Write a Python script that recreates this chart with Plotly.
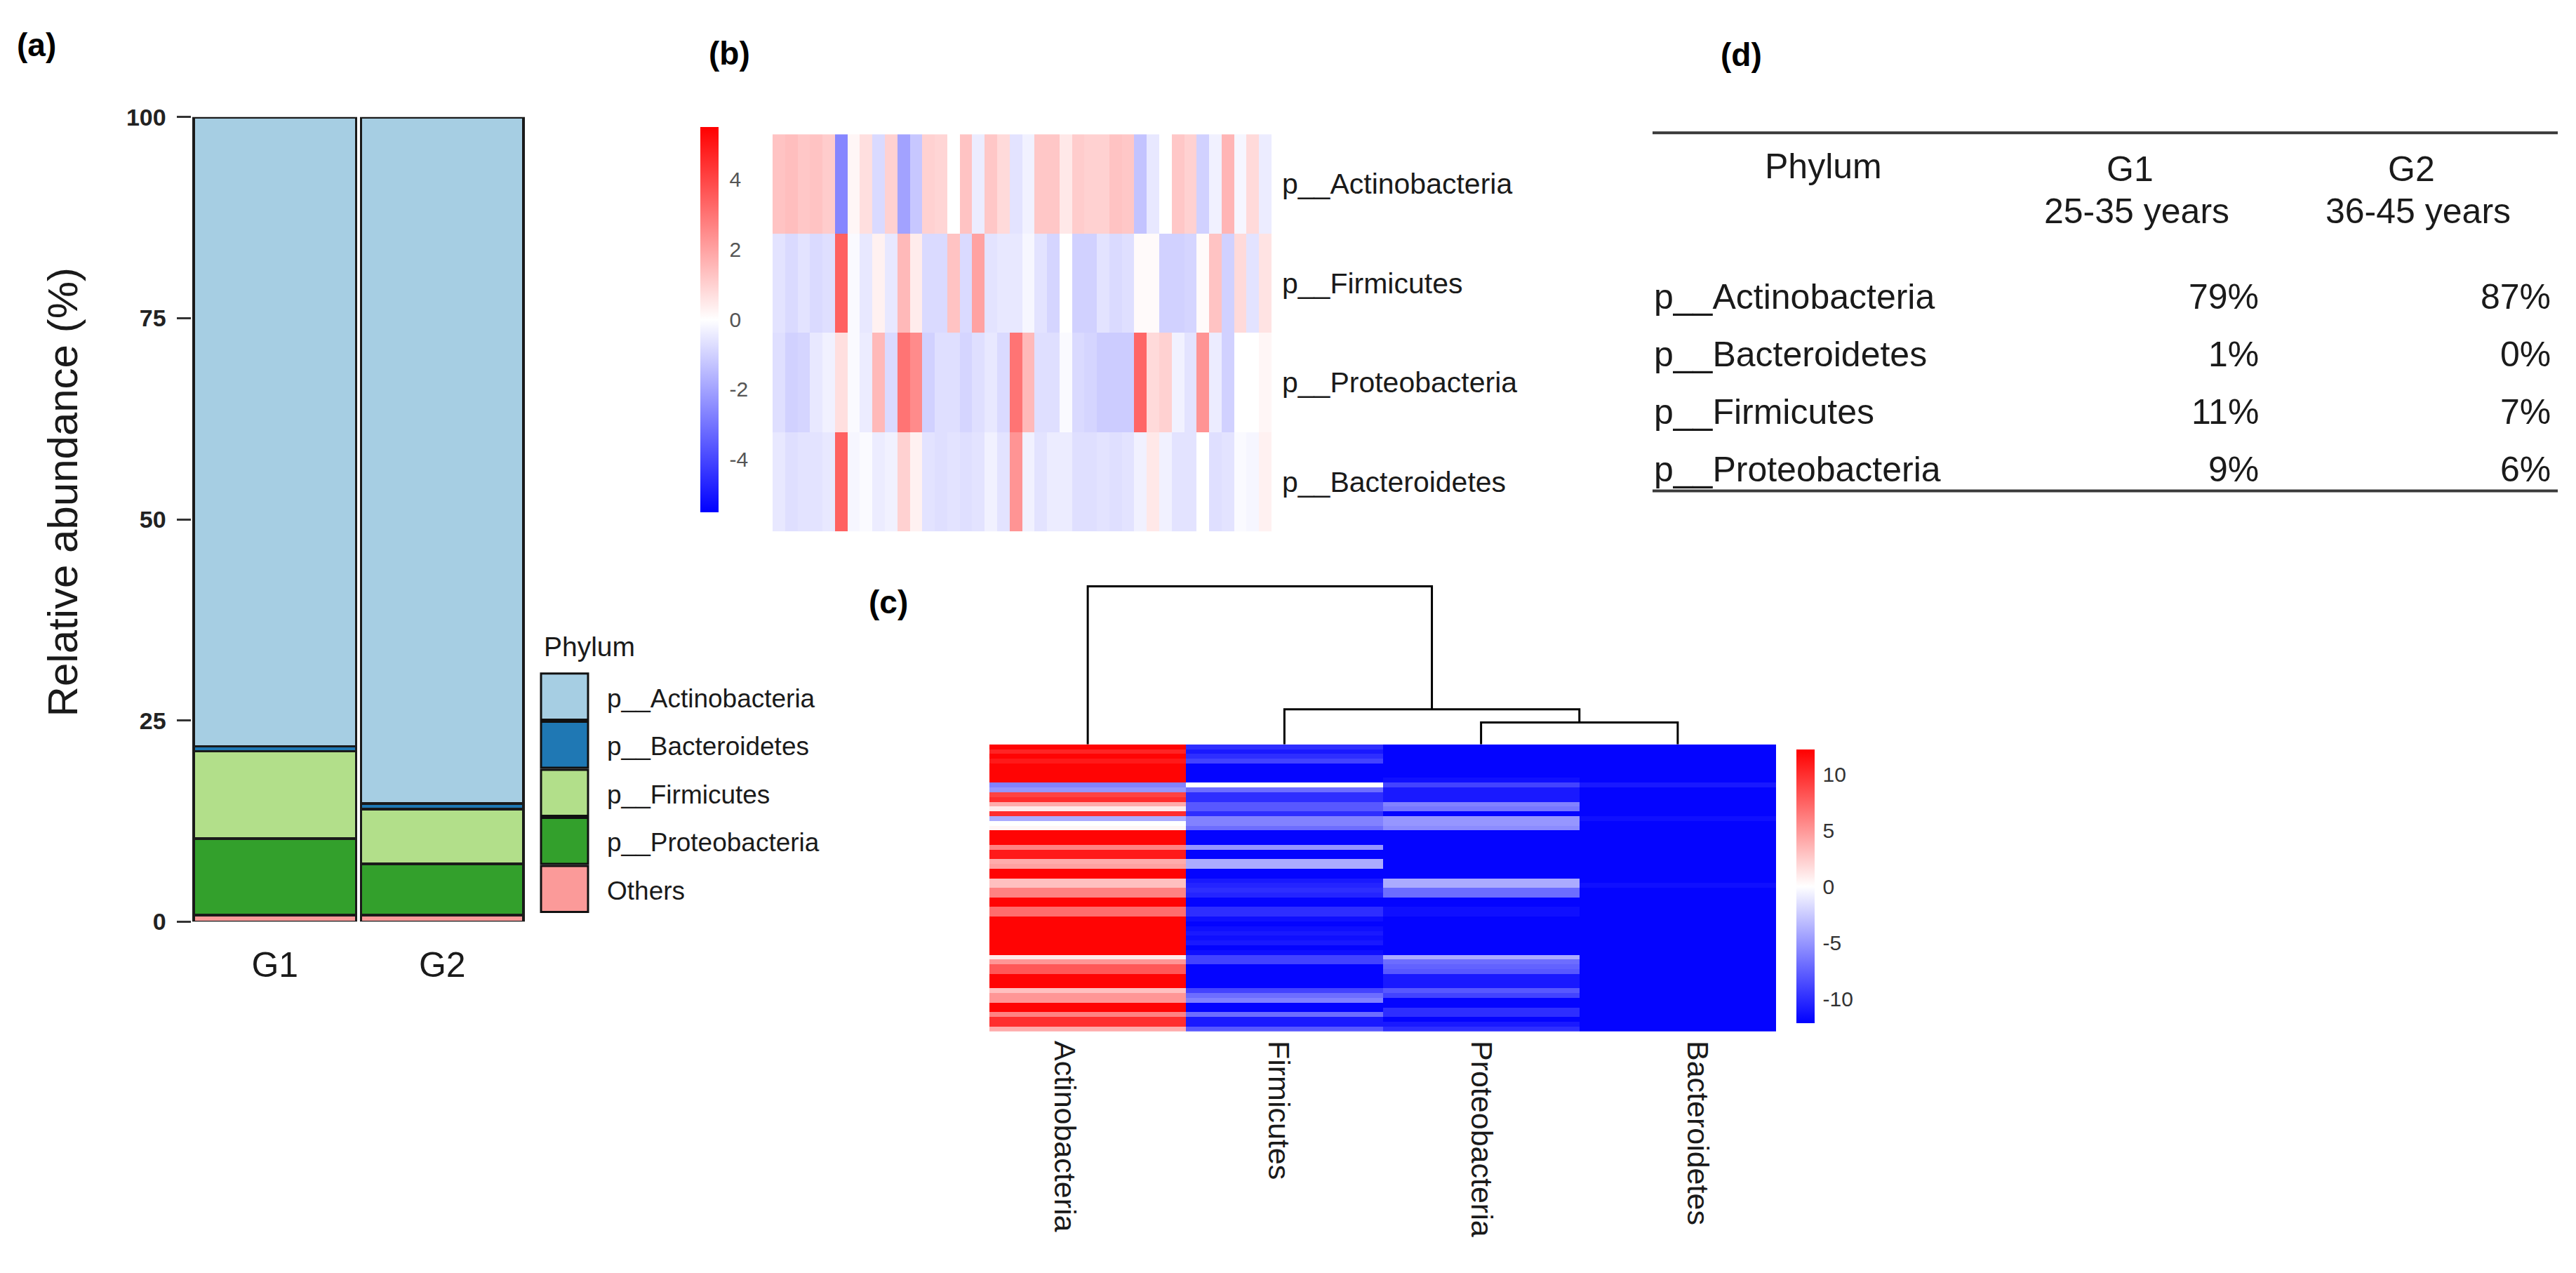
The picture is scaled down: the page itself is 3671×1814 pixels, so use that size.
import plotly.graph_objects as go

W, H = 3671, 1814


def px(x):
    return x / W


def py(y):
    return 1 - y / H


# ---------------- (a) stacked bar data ----------------
groups = ["G1", "G2"]
stack_names = ["Others", "p__Proteobacteria", "p__Firmicutes", "p__Bacteroidetes", "p__Actinobacteria"]
others = [0.8, 0.8]
proteobacteria = [9.5, 6.4]
firmicutes = [10.9, 6.8]
bacteroidetes = [0.6, 0.7]
actinobacteria = [78.2, 85.3]
stack_values = [others, proteobacteria, firmicutes, bacteroidetes, actinobacteria]
phylum_colors = {
    "p__Actinobacteria": "#A6CEE3",
    "p__Bacteroidetes": "#1F78B4",
    "p__Firmicutes": "#B2DF8A",
    "p__Proteobacteria": "#33A02C",
    "Others": "#FB9A99",
}
legend_order = ["p__Actinobacteria", "p__Bacteroidetes", "p__Firmicutes", "p__Proteobacteria", "Others"]
a_yticks = [0, 25, 50, 75, 100]

# ---------------- (b) heatmap data (40 samples) ----------------
b_rows = ["p__Actinobacteria", "p__Firmicutes", "p__Proteobacteria", "p__Bacteroidetes"]
b_actino = [1.3, 1.4, 1.2, 1.3, 1.1, -2.6, 0.2, 0.7, -0.8, 1.0,
            -2.0, -1.2, 1.0, 0.9, 0.0, 1.3, -0.4, 1.2, 0.8, -0.6,
            -0.3, 1.2, 1.2, 0.5, 1.1, 1.0, 1.0, 1.3, 1.2, -1.3,
            -0.5, 0.0, 1.2, 1.0, -1.0, -0.3, 1.6, -0.2, 0.8, -0.4]
b_firm = [-0.6, -0.8, -0.6, -0.8, -0.7, 3.4, -0.1, -0.5, 0.3, -0.5,
          1.5, 0.4, -0.8, -0.8, 1.3, -0.8, 2.0, -0.6, -0.5, -0.5,
          -0.2, -0.6, -0.9, 0.0, -1.0, -1.0, -0.6, -0.8, -0.7, 0.1,
          0.1, -1.0, -1.0, -0.9, 0.1, 1.3, -1.0, 0.8, -0.6, 0.6]
b_proteo = [-0.7, -1.0, -0.9, -0.5, -0.3, 0.7, -0.1, -0.4, 1.5, -0.8,
            3.0, 2.5, -1.0, -0.7, -0.7, -0.9, -0.7, -0.5, -0.8, 3.0,
            1.5, -0.7, -0.7, -0.1, -0.8, -0.9, -1.1, -1.1, -1.1, 3.3,
            0.8, 1.0, -0.3, -0.6, 2.3, -0.4, -1.0, 0.0, 0.0, 0.2]
b_bact = [-0.5, -0.7, -0.6, -0.6, -0.5, 3.4, -0.2, -0.1, -0.4, -0.3,
          1.0, 0.3, -0.6, -0.7, -0.6, -0.7, -0.6, -0.3, -0.6, 2.3,
          -0.3, -0.6, -0.4, -0.4, -0.7, -0.7, -0.6, -0.7, -0.6, -0.3,
          0.5, -0.3, -0.6, -0.6, 0.0, -0.7, -0.6, -0.1, -0.2, 0.3]
b_tickvals = [-4, -2, 0, 2, 4]
b_ticktext = ["-4", "-2", "0", "2", "4"]

# ---------------- (c) clustered heatmap data (60 samples) ----------------
c_cols = ["Actinobacteria", "Firmicutes", "Proteobacteria", "Bacteroidetes"]
c_actino = [12, 10.5, 12, 11, 12, 12, 12, 12, -6, -5,
            9, 10, 4, 1, 10, -4, 0, 0.5, 12, 12,
            12, 6, 11, 11, 4, 4.5, 12, 12, 3, 3,
            6, 6, 12, 12, 7, 7, 12, 12, 12, 12,
            12, 12, 12, 12, 1, 5, 8, 8, 12, 12,
            12, 3, 5, 5, 12, 12, 6, 10, 10, 4]
c_firm = [-10, -11, -10, -9, -12, -12, -12, -12, 0, -7,
          -10, -10, -8, -8, -10, -6, -6, -7, -12, -12,
          -12, -5, -12, -12, -4, -4, -12, -12, -11, -10.5,
          -10, -10.5, -12, -12, -10, -10, -11.5, -12, -11.5, -11,
          -11.5, -11, -12, -11.5, -9, -9, -12, -12, -12, -12,
          -12, -9, -7, -6, -12, -12, -7, -11, -11, -8]
c_proteo = [-12, -12, -12, -12, -12, -12, -12, -11.5, -9, -11,
            -11, -11, -6, -6.5, -12, -5, -5, -5.5, -12, -12,
            -12, -12, -12, -12, -12, -12, -12, -12, -4, -4,
            -7, -7, -12, -12, -11.5, -11.5, -12, -12, -12, -12,
            -12, -12, -12, -12, -4, -7, -7.5, -8, -11, -11,
            -11, -8, -9, -12, -12, -10, -10, -12, -11, -10]
c_bact = [-12, -12, -12, -12, -12, -12, -12, -12, -11, -12,
          -12, -12, -12, -12, -12, -11.5, -12, -12, -12, -12,
          -12, -12, -12, -12, -12, -12, -12, -12, -12, -11.5,
          -12, -12, -12, -12, -12, -12, -12, -12, -12, -12,
          -12, -12, -12, -12, -12, -12, -12, -12, -12, -12,
          -12, -12, -12, -12, -12, -12, -12, -12, -12, -12]
c_tickvals = [-10, -5, 0, 5, 10]
c_ticktext = ["-10", "-5", "0", "5", "10"]
# dendrogram merges: (left child, right child, height)
dendro_merges = [("Proteobacteria", "Bacteroidetes", 3.2),
                 ("Firmicutes", "m0", 5.1),
                 ("Actinobacteria", "m1", 23.0)]

# ---------------- (d) table data ----------------
table_phyla = ["p__Actinobacteria", "p__Bacteroidetes", "p__Firmicutes", "p__Proteobacteria"]
table_g1 = ["79%", "1%", "11%", "9%"]
table_g2 = ["87%", "0%", "7%", "6%"]
group_ages = ["25-35 years", "36-45 years"]

FONT = "Liberation Sans, Arial, sans-serif"
TXT = "#1a1a1a"
bwr = [[0.0, "#0000FF"], [0.5, "#FFFFFF"], [1.0, "#FF0000"]]

fig = go.Figure()

# (a) bars
for name, vals in zip(stack_names, stack_values):
    fig.add_trace(go.Bar(
        x=groups, y=vals, name=name, showlegend=False,
        marker=dict(color=phylum_colors[name], line=dict(color="#1a1a1a", width=3.5)),
        xaxis="x", yaxis="y"))

# (b) heatmap
fig.add_trace(go.Heatmap(
    z=[b_actino, b_firm, b_proteo, b_bact], x=list(range(len(b_actino))), y=b_rows,
    colorscale=bwr, zmin=-5.5, zmax=5.5, xaxis="x2", yaxis="y2",
    colorbar=dict(x=px(998), xanchor="left", y=py(445.5), yanchor="middle",
                  len=549, lenmode="pixels", thickness=26, thicknessmode="pixels",
                  outlinewidth=0, xpad=0, ypad=0,
                  tickvals=b_tickvals, ticktext=b_ticktext,
                  ticks="outside", ticklen=10, tickcolor="rgba(0,0,0,0)",
                  tickfont=dict(size=30, color="#555555", family=FONT))))

# (c) heatmap
z_c = [list(r) for r in zip(c_actino, c_firm, c_proteo, c_bact)]
fig.add_trace(go.Heatmap(
    z=z_c, x=list(range(len(c_cols))), y=list(range(len(c_actino))),
    colorscale=bwr, zmin=-12.2, zmax=12.2, xaxis="x3", yaxis="y3",
    colorbar=dict(x=px(2560), xanchor="left", y=py(1271), yanchor="middle",
                  len=390, lenmode="pixels", thickness=26, thicknessmode="pixels",
                  outlinewidth=0, xpad=0, ypad=0,
                  tickvals=c_tickvals, ticktext=c_ticktext,
                  ticks="outside", ticklen=6, tickcolor="rgba(0,0,0,0)",
                  tickfont=dict(size=30, color="#333333", family=FONT))))

# dendrogram for (c)
node_x = {name: i for i, name in enumerate(c_cols)}
node_h = {name: 0.0 for name in c_cols}
dx, dy = [], []
for k, (left, right, h) in enumerate(dendro_merges):
    xl, xr = node_x[left], node_x[right]
    dx += [xl, xl, xr, xr, None]
    dy += [node_h[left], h, h, node_h[right], None]
    node_x["m%d" % k] = (xl + xr) / 2
    node_h["m%d" % k] = h
fig.add_trace(go.Scatter(x=dx, y=dy, mode="lines", line=dict(color="black", width=3),
                         showlegend=False, hoverinfo="skip", xaxis="x4", yaxis="y4"))

annotations = []
shapes = []

# panel labels
for lab, x0, y0 in [("(a)", 22, 46), ("(b)", 1008, 58), ("(c)", 1236, 857), ("(d)", 2450, 60)]:
    annotations.append(dict(text=lab, x=px(x0), y=py(y0), xref="paper", yref="paper",
                            xanchor="left", yanchor="middle", showarrow=False,
                            font=dict(size=46, family=FONT, color="black", weight="bold")))

# (a) y title
annotations.append(dict(text="Relative abundance (%)", x=px(89), y=py(697), xref="paper", yref="paper",
                        textangle=-90, xanchor="center", yanchor="middle", showarrow=False,
                        font=dict(size=60, family=FONT, color=TXT)))

# (a) legend
annotations.append(dict(text="Phylum", x=px(773), y=py(922), xref="paper", yref="paper",
                        xanchor="left", yanchor="middle", showarrow=False,
                        font=dict(size=39, family=FONT, color=TXT)))
for i, name in enumerate(legend_order):
    top = 961 + 70 * i
    shapes.append(dict(type="rect", xref="paper", yref="paper", x0=px(771), x1=px(838),
                       y0=py(top + 67), y1=py(top), fillcolor=phylum_colors[name],
                       line=dict(color="#111111", width=3)))
    annotations.append(dict(text=name, x=px(863), y=py(top + 36), xref="paper", yref="paper",
                            xanchor="left", yanchor="middle", showarrow=False,
                            font=dict(size=37, family=FONT, color=TXT)))

# (d) table
for yy in (174, 695):
    shapes.append(dict(type="line", xref="paper", yref="paper", x0=px(2355), x1=px(3645),
                       y0=py(yy), y1=py(yy), line=dict(color="#3a3a3a", width=4)))
tfont = dict(size=50, family=FONT, color=TXT)
annotations.append(dict(text="Phylum", x=px(2598), y=py(223), xref="paper", yref="paper",
                        xanchor="center", yanchor="middle", showarrow=False, font=tfont))
for gname, age, gx in zip(groups, group_ages, (3035, 3436)):
    annotations.append(dict(text=gname, x=px(gx), y=py(227), xref="paper", yref="paper",
                            xanchor="center", yanchor="middle", showarrow=False, font=tfont))
    annotations.append(dict(text=age, x=px(gx + 10), y=py(288), xref="paper", yref="paper",
                            xanchor="center", yanchor="middle", showarrow=False, font=tfont))
for i, (ph, v1, v2) in enumerate(zip(table_phyla, table_g1, table_g2)):
    yy = 413 + 83.5 * i
    annotations.append(dict(text=ph, x=px(2355), y=py(yy), xref="paper", yref="paper",
                            xanchor="left", yanchor="middle", showarrow=False, font=tfont))
    annotations.append(dict(text=v1, x=px(3221), y=py(yy), xref="paper", yref="paper",
                            xanchor="right", yanchor="middle", showarrow=False, font=tfont))
    annotations.append(dict(text=v2, x=px(3637), y=py(yy), xref="paper", yref="paper",
                            xanchor="right", yanchor="middle", showarrow=False, font=tfont))

fig.update_layout(
    width=W, height=H, autosize=False,
    margin=dict(l=0, r=0, t=0, b=0),
    paper_bgcolor="white", plot_bgcolor="white",
    font=dict(family=FONT, color=TXT),
    barmode="stack", bargap=0.03,
    showlegend=False,
    annotations=annotations, shapes=shapes,
    xaxis=dict(domain=[px(272.5), px(749.5)], anchor="y", showgrid=False, zeroline=False,
               showline=False, ticks="", tickfont=dict(size=50, family=FONT, color=TXT),
               ticklabelstandoff=28),
    yaxis=dict(domain=[py(1322), py(151)], anchor="x", range=[0, 100], tickvals=a_yticks,
               showgrid=False, zeroline=False, showline=False,
               ticks="outside", ticklen=20, tickwidth=3, tickcolor="#333333",
               tickfont=dict(size=34, family=FONT, color="#222222", weight="bold"),
               ticklabelstandoff=8),
    xaxis2=dict(domain=[px(1101), px(1812)], anchor="y2", range=[-0.5, 39.5], visible=False),
    yaxis2=dict(domain=[py(754), py(176)], anchor="x2", side="right", autorange="reversed",
                showgrid=False, zeroline=False, ticks="",
                tickfont=dict(size=41, family=FONT, color=TXT), ticklabelstandoff=14),
    xaxis3=dict(domain=[px(1410), px(2531)], anchor="y3", range=[-0.5, 3.5],
                tickvals=[-0.12, 0.97, 2.0, 3.1], ticktext=c_cols, tickangle=90,
                showgrid=False, zeroline=False, ticks="",
                tickfont=dict(size=43, family=FONT, color=TXT), ticklabelstandoff=12),
    yaxis3=dict(domain=[py(1482), py(1064)], anchor="x3", autorange="reversed", visible=False),
    xaxis4=dict(domain=[px(1410), px(2531)], anchor="y4", range=[-0.5, 3.5], visible=False),
    yaxis4=dict(domain=[py(1064), py(830)], anchor="x4", range=[0, 23.4], visible=False),
)

fig.write_html("out.html", config={"displayModeBar": False},
               post_script="document.body.style.margin='0';")
